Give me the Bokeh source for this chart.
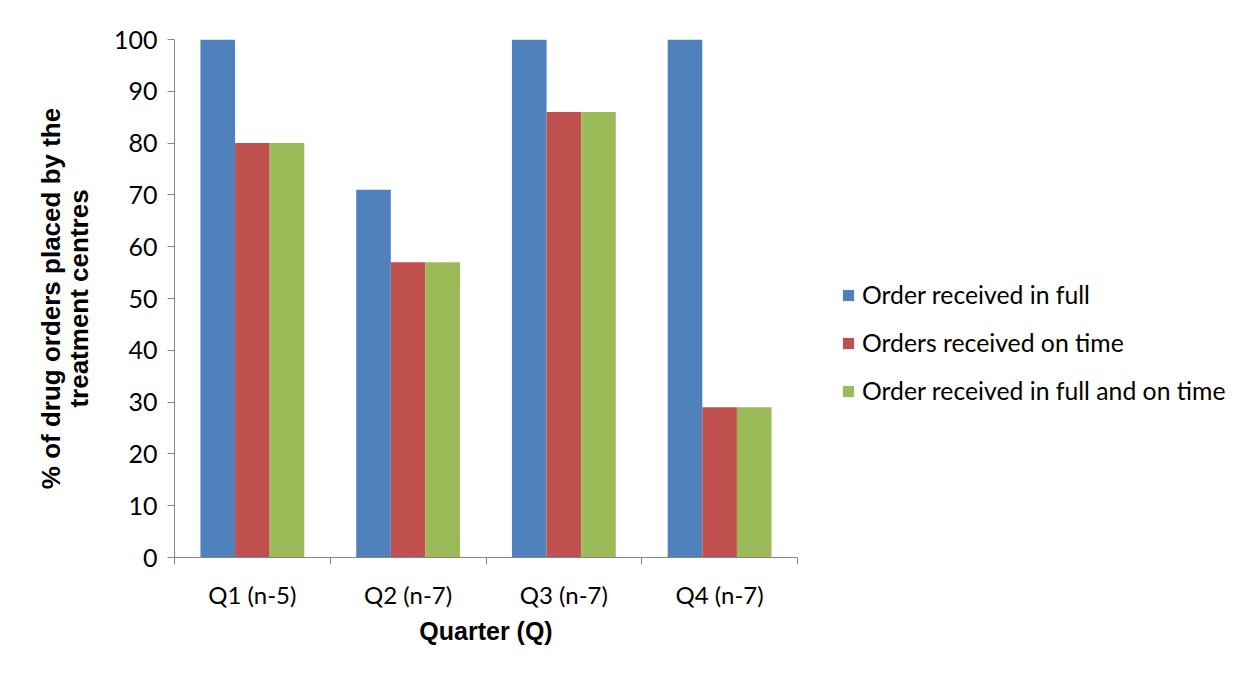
from bokeh.plotting import figure
from bokeh.models import FixedTicker, Legend, LegendItem, Range1d, LinearAxis
from bokeh.embed import file_html
from bokeh.resources import INLINE

quarters = ["Q1 (n-5)", "Q2 (n-7)", "Q3 (n-7)", "Q4 (n-7)"]
series_names = ["Order received in full", "Orders received on time",
                "Order received in full and on time"]
in_full = [100, 71, 100, 100]
on_time = [80, 57, 86, 29]
full_and_on_time = [80, 57, 86, 29]
y_ticks = [0, 10, 20, 30, 40, 50, 60, 70, 80, 90, 100]
y_title_lines = ["% of drug orders placed by the", "treatment centres"]
x_title = "Quarter (Q)"

colors = ["#4F81BD", "#C0504D", "#9BBB59"]
series = [in_full, on_time, full_and_on_time]

p = figure(frame_width=623, frame_height=518, output_backend="svg", toolbar_location=None,
           x_range=Range1d(0, len(quarters)), y_range=Range1d(0, 100),
           min_border_left=174, min_border_right=0, min_border_top=39,
           min_border_bottom=108)
p.outline_line_color = None
p.grid.visible = False

bw = 2 / 9
offsets = [-bw, 0, bw]
renderers = []
for vals, col, off in zip(series, colors, offsets):
    xs = [i + 0.5 + off for i in range(len(quarters))]
    r = p.vbar(x=xs, top=vals, width=bw, bottom=0, fill_color=col, line_color=None)
    renderers.append(r)

# y axis
yax = p.yaxis[0]
yax.ticker = FixedTicker(ticks=y_ticks)
yax.minor_tick_line_color = None
yax.major_tick_in = 0
yax.major_tick_out = 7
yax.axis_line_color = "#868686"
yax.major_tick_line_color = "#868686"
yax.major_label_text_font = "Lato"
yax.major_label_text_font_size = "25px"
yax.major_label_text_color = "#000000"
yax.major_label_standoff = 10
yax.axis_label = y_title_lines[1]
yax.axis_label_text_font = "Liberation Sans"
yax.axis_label_text_font_style = "bold"
yax.axis_label_text_font_size = "26px"
yax.axis_label_text_color = "#000000"
yax.axis_label_standoff = 17

# outer axis carrying the first line of the y title
yax2 = LinearAxis(ticker=FixedTicker(ticks=[]), axis_line_color=None,
                  major_tick_line_color=None, minor_tick_line_color=None,
                  major_label_text_font_size="0px",
                  axis_label=y_title_lines[0], axis_label_text_font="Liberation Sans",
                  axis_label_text_font_style="bold", axis_label_text_font_size="26px",
                  axis_label_text_color="#000000", axis_label_standoff=-5)
p.add_layout(yax2, "left")

# x axis
xax = p.xaxis[0]
xax.ticker = FixedTicker(ticks=[i + 0.5 for i in range(len(quarters))],
                         minor_ticks=list(range(len(quarters) + 1)))
xax.major_label_overrides = {i + 0.5: q for i, q in enumerate(quarters)}
xax.major_tick_in = 0
xax.major_tick_out = 0
xax.minor_tick_in = 0
xax.minor_tick_out = 7
xax.axis_line_color = "#868686"
xax.minor_tick_line_color = "#868686"
xax.major_label_text_font = "Lato"
xax.major_label_text_font_size = "24px"
xax.major_label_text_color = "#000000"
xax.major_label_standoff = 15
xax.axis_label = x_title
xax.axis_label_text_font = "Liberation Sans"
xax.axis_label_text_font_style = "bold"
xax.axis_label_text_font_size = "25px"
xax.axis_label_text_color = "#000000"
xax.axis_label_standoff = 5

items = [LegendItem(label=n, renderers=[r]) for n, r in zip(series_names, renderers)]
legend = Legend(items=items, location=(44, 152), orientation="vertical",
                border_line_color=None, background_fill_alpha=0,
                padding=0, margin=0, spacing=19, glyph_width=14, glyph_height=14,
                label_standoff=7, label_text_font="Lato", label_text_font_size="24.75px",
                label_text_color="#000000", label_height=26)
p.add_layout(legend, "right")

open("out.html", "w").write(file_html(p, INLINE))
